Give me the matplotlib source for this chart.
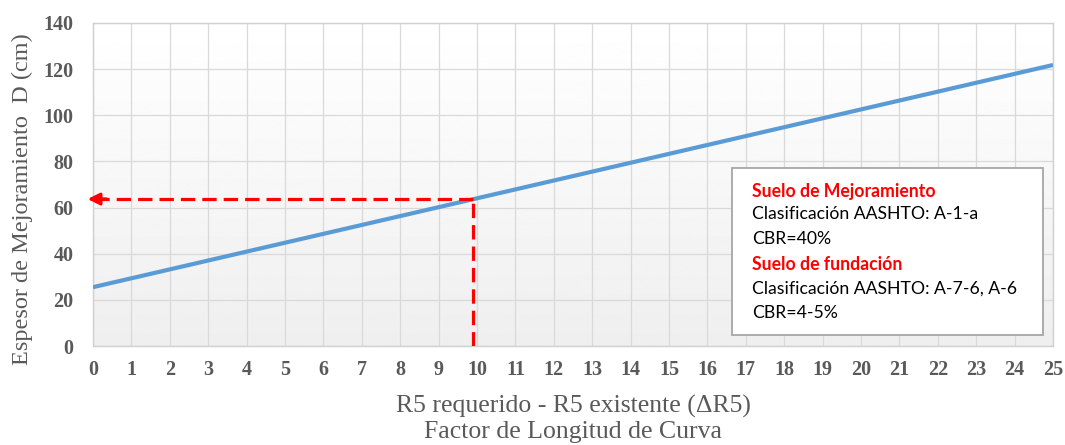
import numpy as np
import matplotlib.pyplot as plt
from matplotlib.patches import Rectangle

# curve end points (factor de longitud vs espesor)
x_curve = [0, 25]
d_curve = [25.5, 121.8]

# reading taken from the chart
x_read = 9.9
d_read = 63.7

x_ticks = list(range(0, 26))
y_ticks = [0, 20, 40, 60, 80, 100, 120, 140]

box_lines = [
    ("Suelo de Mejoramiento", True),
    ("Clasificación AASHTO: A-1-a", False),
    ("CBR=40%", False),
    ("Suelo de fundación", True),
    ("Clasificación AASHTO: A-7-6, A-6", False),
    ("CBR=4-5%", False),
]

W, H = 1065, 445
fig = plt.figure(figsize=(W / 100, H / 100), dpi=100)
ax = fig.add_axes([93 / W, 1 - 346 / H, (1053 - 93) / W, (346 - 23) / H])

# soft vertical gradient behind the plot
grad = np.linspace(1.0, 0.935, 256).reshape(-1, 1)
ax.imshow(grad, extent=[0, 1, 0, 1], transform=ax.transAxes, cmap='gray',
          vmin=0, vmax=1, aspect='auto', zorder=0)

ax.set_xlim(0, 25)
ax.set_ylim(0, 140)
ax.set_xticks(x_ticks)
ax.set_yticks(y_ticks)
ax.grid(True, color='#d9d9d9', lw=0.9, zorder=1)
for s in ax.spines.values():
    s.set_color('#d0d0d0')
    s.set_linewidth(1.0)
ax.tick_params(length=0, colors='#595959')
ax.tick_params(axis='x', pad=10)
ax.tick_params(axis='y', pad=14)
for lab in ax.get_xticklabels() + ax.get_yticklabels():
    lab.set_family('Liberation Serif')
    lab.set_fontweight('bold')
    lab.set_fontsize(14.5)

ax.plot(x_curve, d_curve, color='#5b9bd5', lw=3, zorder=3, solid_capstyle='butt')

# reading lines
red = '#ff0000'
ax.plot([x_read, x_read], [0, d_read], color=red, lw=2.3, dashes=(4.5, 2.2), zorder=4)
ax.plot([x_read, 0.2], [d_read, d_read], color=red, lw=2.3, dashes=(4.5, 2.2), zorder=4,
        clip_on=False)
ax.annotate('', xy=(-0.14, d_read), xytext=(0.35, d_read),
            arrowprops=dict(arrowstyle='-|>,head_length=0.7,head_width=0.35',
                            color=red, lw=2.3, shrinkA=0, shrinkB=0),
            annotation_clip=False, zorder=5)

fig.text(22 / W, 1 - 199 / H, 'Espesor de Mejoramiento  D (cm)', rotation=90,
         ha='center', va='center', family='Liberation Serif', fontsize=17.5, color='#595959')
fig.text(573 / W, 1 - 406 / H, 'R5 requerido - R5 existente (ΔR5)', ha='center', va='center',
         family='Liberation Serif', fontsize=18.5, color='#595959')
fig.text(573 / W, 1 - 432 / H, 'Factor de Longitud de Curva', ha='center', va='center',
         family='Liberation Serif', fontsize=18.5, color='#595959')

# soil info box
fig.patches.append(Rectangle((732 / W, 1 - 335 / H), (1043 - 732) / W, (335 - 168) / H,
                             transform=fig.transFigure, facecolor='white',
                             edgecolor='#a6a6a6', lw=1.3, zorder=6))
line_y = [191, 214, 239, 265, 289, 313]
for (txt, head), yy in zip(box_lines, line_y):
    fig.text(752 / W, 1 - yy / H, txt, ha='left', va='center', family='Lato',
             fontsize=12.7, color=red if head else 'black',
             fontweight='bold' if head else 'normal', zorder=7)

fig.savefig('out.png', dpi=100)
